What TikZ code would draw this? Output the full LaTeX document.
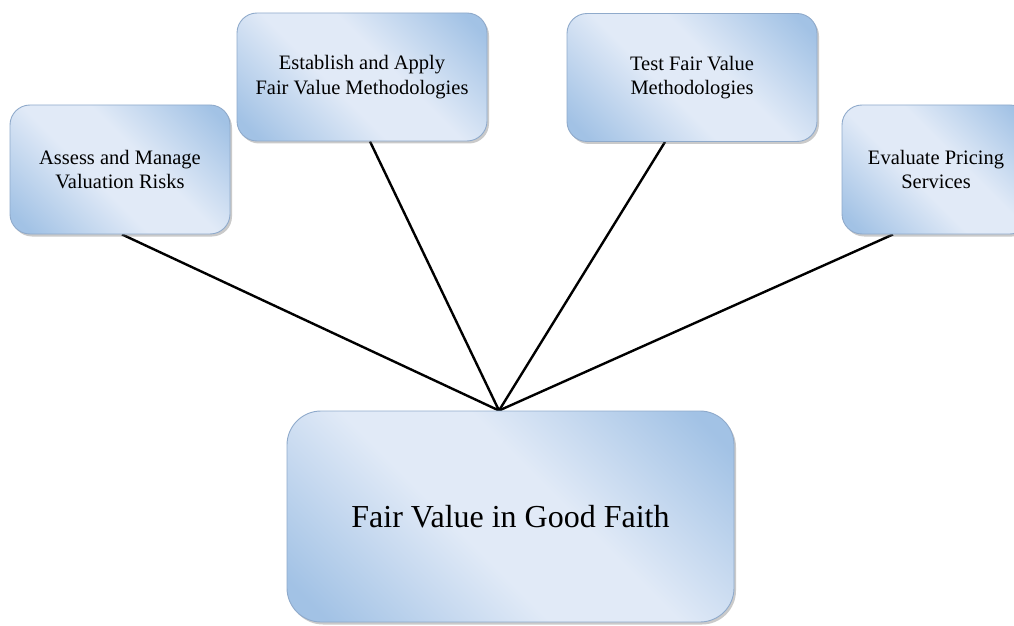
\documentclass[tikz,border=0pt]{standalone}
\usepackage{fontspec}
\setmainfont{Liberation Serif}
\usetikzlibrary{shadows,calc,backgrounds}

\definecolor{boxdark}{HTML}{A2C2E5}
\definecolor{boxlight}{HTML}{E1EAF7}
\definecolor{boxedge}{HTML}{8FAACB}

% soft diagonal band: darker towards two opposite corners, light across the middle
\pgfdeclareverticalshading{softband}{100bp}{%
  color(0bp)=(boxdark); color(19bp)=(boxdark); color(43bp)=(boxlight);
  color(57bp)=(boxlight); color(81bp)=(boxdark); color(100bp)=(boxdark)}

\tikzset{
  task/.style={
    draw=boxedge, line width=0.9pt, rounded corners=20pt,
    shade, shading=softband, shading angle=-45,
    drop shadow={shadow xshift=2pt, shadow yshift=-2.5pt, opacity=0.35, fill=black!60},
    align=center, inner sep=0pt,
    font=\fontsize{20.5}{24.5}\selectfont
  },
  goal/.style={
    task, rounded corners=34pt,
    font=\fontsize{32}{38}\selectfont
  },
  spoke/.style={line width=2.4pt, black}
}

\begin{document}
\begin{tikzpicture}[x=1pt, y=1pt]
  \useasboundingbox (0,0) rectangle (1014,625);
  \clip (0,0) rectangle (1014,625);

  % outer task boxes
  \node[task, minimum width=220pt, minimum height=129pt] (assess)
    at (120,455.5) {Assess and Manage\\Valuation Risks};
  \node[task, minimum width=250pt, minimum height=128pt] (apply)
    at (362,548) {Establish and Apply\\Fair Value Methodologies};
  \node[task, minimum width=250pt, minimum height=128pt] (test)
    at (692,547.5) {Test Fair Value\\Methodologies};
  \node[task, minimum width=188pt, minimum height=129pt] (pricing)
    at (936,455.5) {Evaluate Pricing\\Services};

  % central goal box
  \node[goal, minimum width=447pt, minimum height=211pt] (goal)
    at (510.5,108.5) {Fair Value in Good Faith};

  % spokes joining every task to one point on the goal's top edge
  \coordinate (hub) at ($(goal.north)+(-11.5,0)$);
  \begin{scope}[on background layer]
    \draw[spoke] ($(assess.south)+(2,0)$) -- (hub);
    \draw[spoke] ($(apply.south)+(8,0)$) -- (hub);
    \draw[spoke] ($(test.south)+(-27,0)$) -- (hub);
    \draw[spoke] ($(pricing.south)+(-43,0)$) -- (hub);
  \end{scope}
\end{tikzpicture}
\end{document}
